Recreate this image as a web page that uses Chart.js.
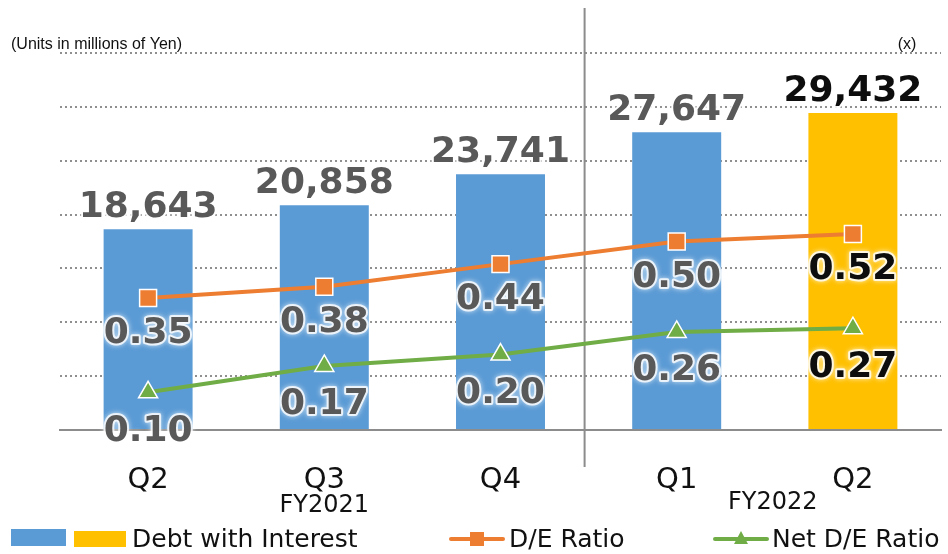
<!DOCTYPE html>
<html>
<head>
<meta charset="utf-8">
<script src="https://cdn.jsdelivr.net/npm/chart.js@4"></script>
<style>
    html, body { margin: 0; padding: 0; background: #fff; }
    #wrap { position: relative; width: 948px; height: 554px; }
</style>
</head>
<body>
<div id="wrap"><canvas id="chart"></canvas></div>
<script>
const quarters = ['Q2', 'Q3', 'Q4', 'Q1', 'Q2'];
const fiscalYears = ['FY2021', 'FY2022'];
const debtWithInterest = [18643, 20858, 23741, 27647, 29432];
const deRatio = [0.35, 0.38, 0.44, 0.50, 0.52];
const netDeRatio = [0.10, 0.17, 0.20, 0.26, 0.27];

const BLUE = '#5B9BD5';
const GOLD = '#FFC000';
const ORANGE = '#ED7D31';
const GREEN = '#70AD47';
const LABEL_FONT = 'bold 36px "DejaVu Sans"';

// text with a soft white halo, like the original labels
function haloText(ctx, text, x, y, color) {
    ctx.save();
    ctx.lineJoin = 'round';
    ctx.shadowColor = 'rgba(255,255,255,0.9)';
    ctx.shadowBlur = 5;
    ctx.strokeStyle = 'rgba(255,255,255,0.8)';
    ctx.lineWidth = 4;
    ctx.strokeText(text, x, y);
    ctx.shadowBlur = 0;
    ctx.fillStyle = color;
    ctx.fillText(text, x, y);
    ctx.restore();
}

const decorations = {
    id: 'decorations',
    beforeDatasetsDraw(chart) {
        const ctx = chart.ctx;
        const x = chart.scales.x;
        // divider between fiscal years
        const sep = (x.getPixelForValue(2) + x.getPixelForValue(3)) / 2 - 4;
        ctx.save();
        ctx.strokeStyle = '#8c8c8c';
        ctx.lineWidth = 2;
        ctx.beginPath();
        ctx.moveTo(sep, 8);
        ctx.lineTo(sep, 467);
        ctx.stroke();
        ctx.restore();
    },
    afterDraw(chart) {
        const ctx = chart.ctx;
        const x = chart.scales.x;
        ctx.save();
        // units
        ctx.font = '16px "Liberation Sans"';
        ctx.fillStyle = '#111';
        ctx.textBaseline = 'middle';
        ctx.textAlign = 'left';
        ctx.fillText('(Units in millions of Yen)', 11, 45);
        ctx.textAlign = 'center';
        ctx.fillText('(x)', 907, 45);

        // fiscal year captions
        ctx.font = '24px "DejaVu Sans"';
        ctx.fillStyle = '#111';
        ctx.fillText(fiscalYears[0], x.getPixelForValue(1), 506);
        ctx.fillText(fiscalYears[1], (x.getPixelForValue(3) + x.getPixelForValue(4)) / 2 + 8, 503);

        // value labels
        ctx.font = LABEL_FONT;
        ctx.textAlign = 'center';
        const bars = chart.getDatasetMeta(0).data;
        const de = chart.getDatasetMeta(1).data;
        const net = chart.getDatasetMeta(2).data;
        bars.forEach((bar, i) => {
            const last = i === bars.length - 1;
            const col = last ? '#0d0d0d' : '#595959';
            ctx.textBaseline = 'alphabetic';
            haloText(ctx, debtWithInterest[i].toLocaleString('en-US'), bar.x, bar.y - 12, col);
            ctx.textBaseline = 'middle';
            haloText(ctx, deRatio[i].toFixed(2), de[i].x, de[i].y + 36, col);
            haloText(ctx, netDeRatio[i].toFixed(2), net[i].x, net[i].y + 39, col);
        });

        // legend
        const ly = 539;
        ctx.fillStyle = BLUE;
        ctx.fillRect(11, 529, 55, 17);
        ctx.fillStyle = GOLD;
        ctx.fillRect(74, 531, 52, 16);
        ctx.font = '25px "DejaVu Sans"';
        ctx.fillStyle = '#111';
        ctx.textAlign = 'left';
        ctx.textBaseline = 'middle';
        ctx.fillText('Debt with Interest', 132, ly + 1);

        ctx.lineCap = 'round';
        ctx.lineWidth = 4;
        ctx.strokeStyle = ORANGE;
        ctx.beginPath(); ctx.moveTo(451, ly); ctx.lineTo(503, ly); ctx.stroke();
        ctx.fillStyle = ORANGE;
        ctx.fillRect(470, ly - 7, 14, 14);
        ctx.fillStyle = '#111';
        ctx.fillText('D/E Ratio', 509, ly + 1);

        ctx.strokeStyle = GREEN;
        ctx.beginPath(); ctx.moveTo(715, ly); ctx.lineTo(767, ly); ctx.stroke();
        ctx.fillStyle = GREEN;
        ctx.beginPath();
        ctx.moveTo(741, ly - 8); ctx.lineTo(748, ly + 5); ctx.lineTo(734, ly + 5);
        ctx.closePath(); ctx.fill();
        ctx.fillStyle = '#111';
        ctx.fillText('Net D/E Ratio', 772, ly + 1);
        ctx.restore();
    }
};

new Chart(document.getElementById('chart'), {
    data: {
        labels: quarters,
        datasets: [
            {
                label: 'Debt with Interest',
                type: 'bar',
                data: debtWithInterest,
                yAxisID: 'y',
                order: 3,
                backgroundColor: debtWithInterest.map((v, i) => i === debtWithInterest.length - 1 ? GOLD : BLUE),
                categoryPercentage: 1,
                barPercentage: 0.505
            },
            {
                label: 'D/E Ratio',
                type: 'line',
                data: deRatio,
                yAxisID: 'y1',
                order: 1,
                borderColor: ORANGE,
                borderWidth: 4,
                pointStyle: 'rect',
                pointRadius: 12,
                pointBackgroundColor: ORANGE,
                pointBorderColor: '#fff',
                pointBorderWidth: 1.5
            },
            {
                label: 'Net D/E Ratio',
                type: 'line',
                data: netDeRatio,
                yAxisID: 'y1',
                order: 2,
                borderColor: GREEN,
                borderWidth: 4,
                pointStyle: 'triangle',
                pointRadius: 11,
                pointBackgroundColor: GREEN,
                pointBorderColor: '#fff',
                pointBorderWidth: 1.5
            }
        ]
    },
    options: {
        responsive: true,
        maintainAspectRatio: false,
        animation: false,
        layout: { autoPadding: false, padding: { top: 53, left: 60, right: 7, bottom: 0 } },
        plugins: {
            legend: { display: false },
            tooltip: { enabled: false }
        },
        scales: {
            x: {
                grid: { display: false, drawTicks: false },
                border: { display: true, color: '#8c8c8c', width: 2 },
                ticks: {
                    color: '#111',
                    font: { family: 'DejaVu Sans', size: 29 },
                    padding: 33
                },
                afterFit: (s) => { s.height = 124; }
            },
            y: {
                min: 0,
                max: 35000,
                ticks: { display: false, stepSize: 5000 },
                grid: { color: '#8f8f8f', lineWidth: 2, drawTicks: false },
                border: { display: false, dash: [2, 3] },
                afterFit: (s) => { s.width = 0; }
            },
            y1: {
                display: false,
                position: 'right',
                min: 0,
                max: 1
            }
        }
    },
    plugins: [decorations]
});
</script>
</body>
</html>
